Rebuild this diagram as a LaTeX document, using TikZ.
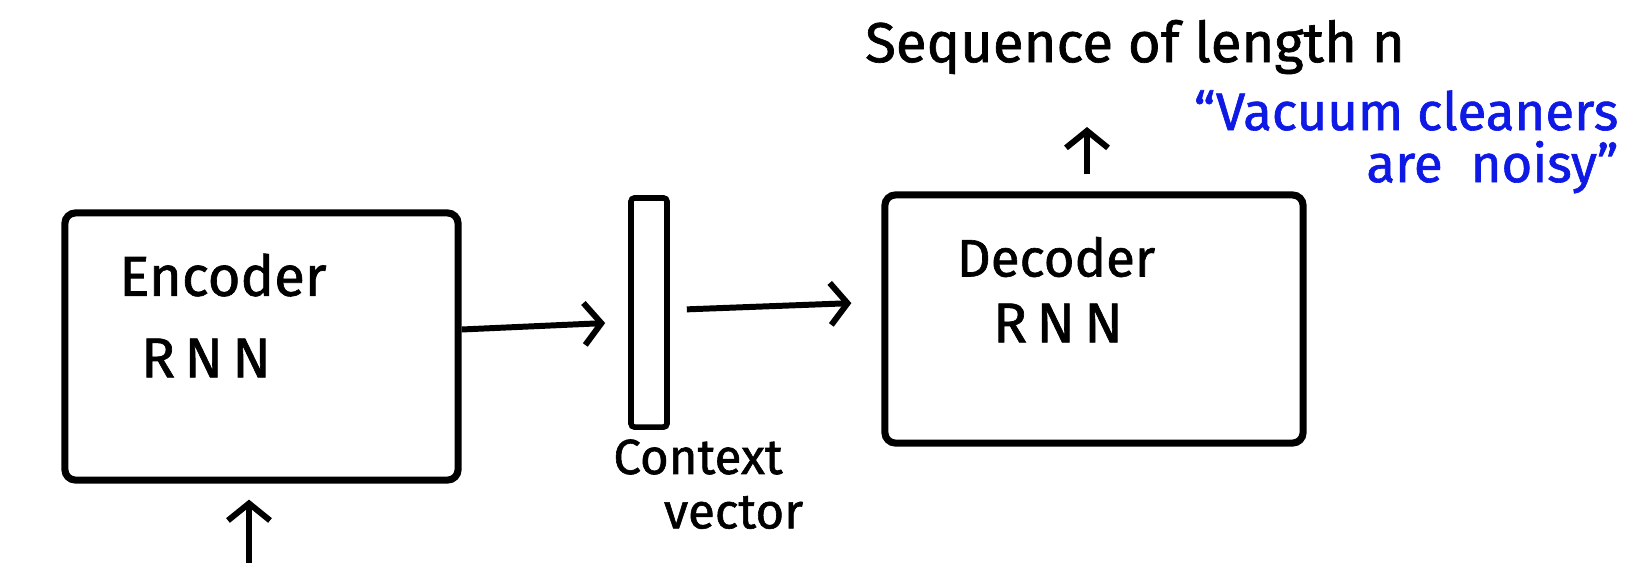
\documentclass[tikz,border=0pt]{standalone}
\usepackage{fontspec}
\setmainfont{Fira Sans}
\newfontfamily\penfont{Fira Sans}[FakeBold=1.2]
\usetikzlibrary{positioning, arrows.meta}

\definecolor{penblue}{RGB}{15,25,230}

\tikzset{
  rnnbox/.style={draw, line width=2pt, rounded corners=3pt, inner sep=0pt},
  ctxbar/.style={draw, line width=1.6pt, rounded corners=1pt, minimum width=0.36cm, minimum height=2.29cm, inner sep=0pt},
  arr/.style={-{Straight Barb[length=1.7mm, width=4.2mm]}, line width=1.7pt},
  hand/.style={font=\penfont\fontsize{16}{19}\selectfont, inner sep=0pt},
  small hand/.style={font=\penfont\fontsize{14}{17}\selectfont, inner sep=0pt},
  blue hand/.style={font=\penfont\fontsize{15}{18}\selectfont, text=penblue, inner sep=0pt, anchor=base east}
}

\begin{document}
\begin{tikzpicture}[x=0.01cm, y=-0.01cm]
  \useasboundingbox (0,0) rectangle (1627,563);

  % the two networks and the vector between them
  \node[rnnbox, minimum width=3.93cm, minimum height=2.67cm] (enc) at (261.5,346.5) {};
  \node[ctxbar] (ctx) at (649,312.5) {};
  \node[rnnbox, minimum width=4.18cm, minimum height=2.48cm] (dec) at (1094,319) {};

  \node[hand] (enctxt) at (223,275) {Encoder};
  \node[hand] (encrnn) at (206,358) {R\,N\,N};
  \node[hand, font=\penfont\fontsize{15}{18}\selectfont] (dectxt) at (1056,257) {Decoder};
  \node[hand] (decrnn) at (1058,323) {R\,N\,N};

  \node[small hand] (ctxlbl) at (698,457) {Context};
  \node[small hand, below right=0.2cm and -1.2cm of ctxlbl] (veclbl) {vector};

  % output side
  \node[hand] (seq) at (1135,47) {Sequence of length n};
  \node[blue hand] (sample) at (1619,130) {“Vacuum cleaners};
  \node[blue hand] (sample2) at ([yshift=-0.52cm]sample.base east) {are \ noisy”};

  \coordinate (src) at (249,563);
  \coordinate (out) at (1087,127);

  \draw[arr, shorten >=0.16cm] (src) -- (src |- enc.south);
  \draw[arr, shorten >=0.23cm] ([yshift=0.17cm]enc.east) -- ([yshift=-0.095cm]ctx.west);
  \draw[arr, shorten <=0.17cm, shorten >=0.3cm] ([yshift=0.025cm]ctx.east) -- ([yshift=0.17cm]dec.west);
  \draw[arr, shorten <=0.17cm] (out |- dec.north) -- (out);
\end{tikzpicture}
\end{document}
